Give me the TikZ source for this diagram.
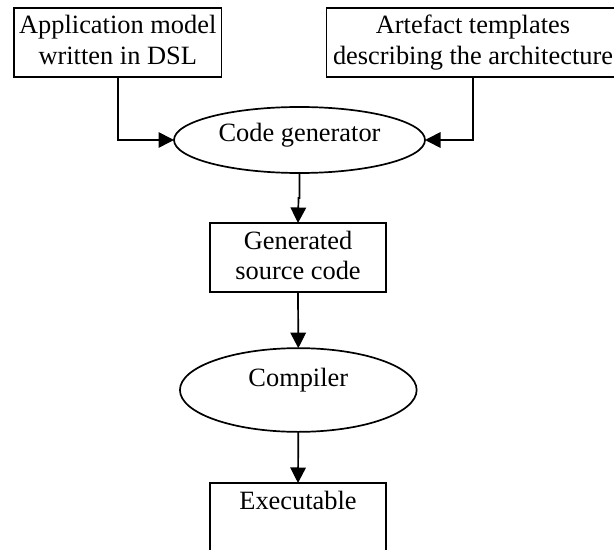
\documentclass[tikz,border=0pt]{standalone}
\usepackage{fontspec}
\setmainfont{Liberation Serif}
\usetikzlibrary{shapes.geometric,arrows.meta}
\tikzset{
  x=1bp,y=-1bp,
  base/.style={draw=black,line width=1.7bp,inner sep=0pt,outer sep=0pt,align=center,
    font=\fontsize{26.4bp}{30.5bp}\selectfont},
  box/.style={base,rectangle},
  oval/.style={base,ellipse},
  flow/.style={line width=1.7bp,-{Triangle[length=15.5bp,width=15.5bp]},shorten >=0pt},
}
\begin{document}
\begin{tikzpicture}
\useasboundingbox (0,0) rectangle (614,550);
\clip (0,0) rectangle (614,550);
\fill[white] (0,0) rectangle (614,550);
\node[box,font=\fontsize{26.4bp}{31.5bp}\selectfont,minimum width=207.5bp,text height=57bp,text depth=12bp] (app) at (117.75,42.5) {Application model\\written in DSL};
\node[box,font=\fontsize{26.4bp}{31.5bp}\selectfont,minimum width=293bp,text height=57bp,text depth=12bp] (art) at (473,42.5) {Artefact templates\\describing the architecture};
\node[oval,minimum width=251bp,minimum height=66bp,text height=10bp,text depth=6bp] (gen) at (299.5,140) {Code generator};
\node[box,font=\fontsize{26.4bp}{30bp}\selectfont,minimum width=175.5bp,text height=56.3bp,text depth=12.7bp] (src) at (298,257.5) {Generated\\source code};
\node[oval,minimum width=236.7bp,minimum height=83.7bp,text height=2bp,text depth=8.6bp] (cmp) at (298.3,390) {Compiler};
\node[box,minimum width=175.5bp,text height=26bp,text depth=61bp] (exe) at (298,526.5) {Executable};
\coordinate (jog) at (298.5,198);
\draw[flow] (app.south) |- (gen.west);
\draw[flow] (art.south) |- (gen.east);
\draw[flow] (gen.south) |- (jog) -- (src.north);
\draw[flow] (src.south) -- (cmp.north);
\draw[flow] (cmp.south) -- (exe.north);
\end{tikzpicture}
\end{document}
